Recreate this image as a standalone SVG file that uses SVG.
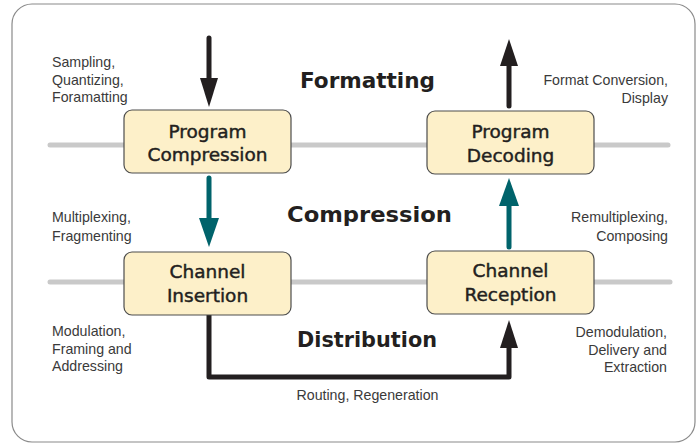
<svg xmlns="http://www.w3.org/2000/svg" width="700" height="445" viewBox="0 0 700 445">
<style>
.frame{fill:#fff;stroke:#8a8a8a;stroke-width:1.2}
.rail{stroke:#c9c9c9;stroke-width:5;stroke-linecap:round;fill:none}
.box{fill:#fdf0c9;stroke:#4d4d4d;stroke-width:1.2}
.lbl{font-family:"DejaVu Sans",sans-serif;font-size:18.5px;fill:#231f20;stroke:#231f20;stroke-width:0.45;text-anchor:middle}
.ttl{font-family:"DejaVu Sans",sans-serif;font-weight:bold;font-size:21px;fill:#231f20;text-anchor:middle}
.sm{font-family:"Liberation Sans",Arial,sans-serif;font-size:14.2px;fill:#3a3a3a}
.r{text-anchor:end}
.c{text-anchor:middle}
.blk{stroke:#231f20;stroke-width:5;fill:none;stroke-linecap:round;stroke-linejoin:round}
.tea{stroke:#00636b;stroke-width:5;fill:none;stroke-linecap:round}
.hb{fill:#231f20}
.ht{fill:#00636b}
</style>
<rect class="frame" x="12" y="4" width="683" height="438" rx="20"/>
<g id="rails">
<line class="rail" x1="50" y1="145" x2="668" y2="145"/>
<line class="rail" x1="50" y1="282" x2="670" y2="282"/>
</g>
<g id="connectors">
<line class="blk" x1="209" y1="38" x2="209" y2="82"/>
<polygon class="hb" points="200,78 218,78 209,107"/>
<line class="blk" x1="509" y1="106" x2="509" y2="62"/>
<polygon class="hb" points="500,66 518,66 509,39"/>
<line class="tea" x1="209" y1="178" x2="209" y2="222"/>
<polygon class="ht" points="199,218 219,218 209,247"/>
<line class="tea" x1="509" y1="247" x2="509" y2="202"/>
<polygon class="ht" points="499,206 519,206 509,178"/>
<polyline class="blk" points="209,301 209,377 509,377 509,345"/>
<polygon class="hb" points="500,348 518,348 509,320"/>
</g>
<g id="program-compression">
<rect class="box" x="124" y="110" width="167" height="63" rx="8"/>
<text class="lbl" x="207.5" y="137.5">Program</text>
<text class="lbl" x="207.5" y="161">Compression</text>
</g>
<g id="program-decoding">
<rect class="box" x="427" y="111" width="167" height="63" rx="8"/>
<text class="lbl" x="510.5" y="138">Program</text>
<text class="lbl" x="510.5" y="162">Decoding</text>
</g>
<g id="channel-insertion">
<rect class="box" x="124" y="252" width="167" height="63" rx="8"/>
<text class="lbl" x="207.5" y="278">Channel</text>
<text class="lbl" x="207.5" y="302">Insertion</text>
</g>
<g id="channel-reception">
<rect class="box" x="427" y="251" width="167" height="63" rx="8"/>
<text class="lbl" x="510.5" y="277">Channel</text>
<text class="lbl" x="510.5" y="301">Reception</text>
</g>
<g id="titles">
<text class="ttl" x="367.5" y="88" textLength="135" lengthAdjust="spacingAndGlyphs">Formatting</text>
<text class="ttl" x="369.5" y="222" textLength="165" lengthAdjust="spacingAndGlyphs">Compression</text>
<text class="ttl" x="367" y="347" textLength="140" lengthAdjust="spacingAndGlyphs">Distribution</text>
</g>
<g id="notes">
<text class="sm" x="52" y="67">Sampling,</text>
<text class="sm" x="52" y="84.5">Quantizing,</text>
<text class="sm" x="52" y="102">Foramatting</text>
<text class="sm r" x="668" y="85">Format Conversion,</text>
<text class="sm r" x="668" y="103">Display</text>
<text class="sm" x="52" y="222">Multiplexing,</text>
<text class="sm" x="52" y="241">Fragmenting</text>
<text class="sm r" x="668" y="222">Remultiplexing,</text>
<text class="sm r" x="668" y="241">Composing</text>
<text class="sm" x="52" y="336">Modulation,</text>
<text class="sm" x="52" y="354">Framing and</text>
<text class="sm" x="52" y="371">Addressing</text>
<text class="sm r" x="667" y="337">Demodulation,</text>
<text class="sm r" x="667" y="355">Delivery and</text>
<text class="sm r" x="667" y="372">Extraction</text>
<text class="sm c" x="367.5" y="400">Routing, Regeneration</text>
</g>
</svg>
